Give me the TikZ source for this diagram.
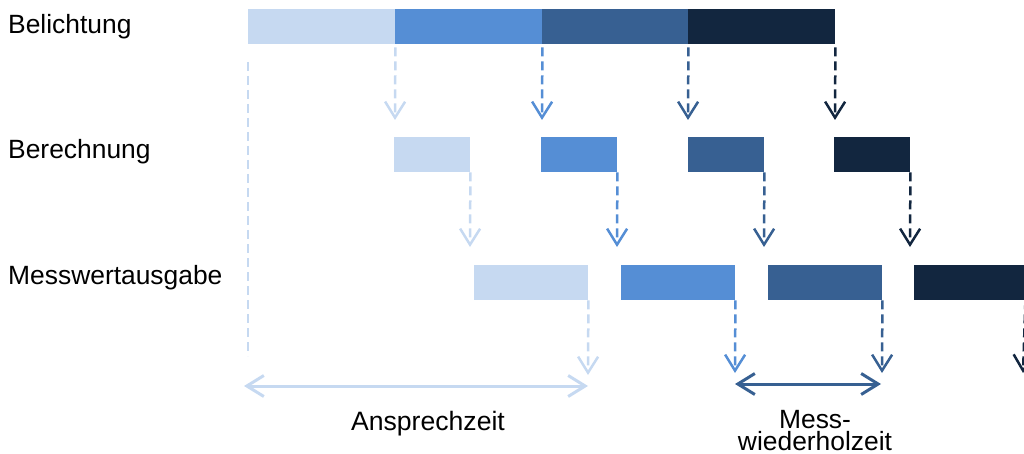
\documentclass[tikz,border=0pt]{standalone}
\usepackage{fontspec}
\setmainfont{Liberation Sans}
\usetikzlibrary{arrows.meta}
\definecolor{cA}{HTML}{C6D9F1}
\definecolor{cB}{HTML}{558ED5}
\definecolor{cC}{HTML}{376092}
\definecolor{cD}{HTML}{12263F}
\tikzset{
  bar/.style={fill=#1, draw=none, inner sep=0pt, minimum height=35pt, anchor=north west},
  flow/.style={draw=#1, line width=2.5pt, dash pattern=on 9pt off 5pt,
    -{Straight Barb[length=16pt,width=20pt,line width=2.5pt]}},
  span/.style={draw=#1, line width=3pt,
    {Straight Barb[length=17pt,width=21pt]}-{Straight Barb[length=17pt,width=21pt]}},
  lbl/.style={font=\fontsize{26.4pt}{22pt}\selectfont, inner sep=0pt}
}
\begin{document}
\begin{tikzpicture}[x=1pt,y=-1pt]
\useasboundingbox (0,0) rectangle (1024,454);
\clip (0,0) rectangle (1024,454);
% labels
\node[lbl, anchor=base west] (L1) at (8,34) {Belichtung};
\node[lbl, anchor=base west] (L2) at (8,159) {Berechnung};
\node[lbl, anchor=base west] (L3) at (8,284) {Messwertausgabe};
% Belichtung
\node[bar=cA, minimum width=147pt] (b1) at (248,9) {};
\node[bar=cB, minimum width=147pt] (b2) at (395,9) {};
\node[bar=cC, minimum width=146pt] (b3) at (542,9) {};
\node[bar=cD, minimum width=147pt] (b4) at (688,9) {};
% Berechnung
\node[bar=cA, minimum width=76pt] (r1) at (394,137) {};
\node[bar=cB, minimum width=76pt] (r2) at (541,137) {};
\node[bar=cC, minimum width=76pt] (r3) at (688,137) {};
\node[bar=cD, minimum width=76pt] (r4) at (834,137) {};
% Messwertausgabe
\node[bar=cA, minimum width=114pt] (m1) at (474,265) {};
\node[bar=cB, minimum width=114pt] (m2) at (621,265) {};
\node[bar=cC, minimum width=114pt] (m3) at (768,265) {};
\node[bar=cD, minimum width=112pt] (m4) at (914,265) {};
% arrow end points
\coordinate (e1) at (395,120);
\coordinate (e2) at (542,120);
\coordinate (e3) at (688,120);
\coordinate (e4) at (835,120);
\coordinate (f1) at (470,247);
\coordinate (f2) at (617,247);
\coordinate (f3) at (764,247);
\coordinate (f4) at (910,247);
\coordinate (g1) at (588,375);
\coordinate (g2) at (735,373);
\coordinate (g3) at (882,373);
\coordinate (g4) at (1023,373);
% Belichtung -> Berechnung
\draw[flow=cA] (b1.south east) ++(0,3) -- (e1);
\draw[flow=cB] (b2.south east) ++(0,3) -- (e2);
\draw[flow=cC] (b3.south east) ++(0,3) -- (e3);
\draw[flow=cD] (b4.south east) ++(0,3) -- (e4);
% Berechnung -> Messwertausgabe
\draw[flow=cA] (r1.south east) -- (f1);
\draw[flow=cB] (r2.south east) -- (f2);
\draw[flow=cC] (r3.south east) -- (f3);
\draw[flow=cD] (r4.south east) -- (f4);
% Messwertausgabe -> output
\draw[flow=cA] (m1.south east) -- (g1);
\draw[flow=cB] (m2.south east) -- (g2);
\draw[flow=cC] (m3.south east) -- (g3);
\draw[flow=cD] (m4.south east) ++(-1,0) -- (g4);
% start marker
\coordinate (s1) at (248,62);
\coordinate (s2) at (248,356);
\draw[cA, line width=2.5pt, dash pattern=on 9pt off 5pt] (s1) -- (s2);
% spans
\coordinate (a1) at (244,386);
\coordinate (a2) at (588,386);
\draw[span=cA] (a1) -- (a2);
\coordinate (w1) at (735,384);
\coordinate (w2) at (881,384);
\draw[span=cC] (w1) -- (w2);
\node[font=\fontsize{26.6pt}{26pt}\selectfont, inner sep=0pt, anchor=base] (T1) at (428,430) {Ansprechzeit};
\node[lbl, align=center, anchor=base] (T2) at (815,450) {Mess-\\wiederholzeit};
\end{tikzpicture}
\end{document}
